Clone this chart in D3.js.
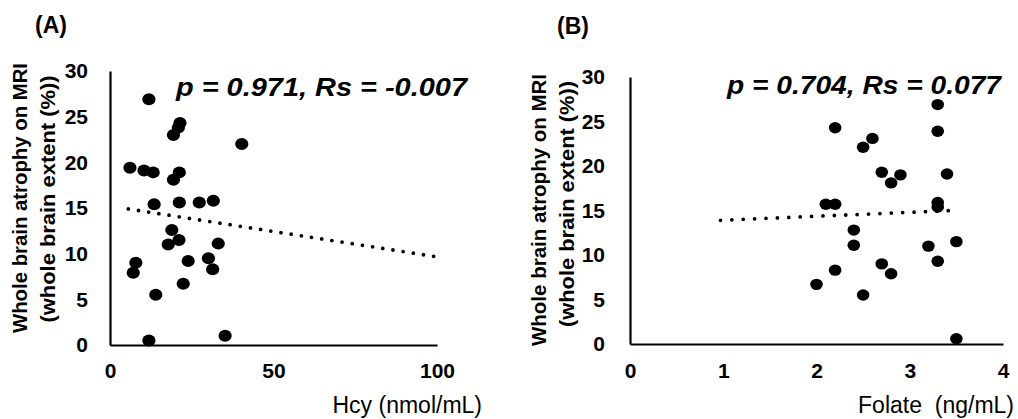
<!DOCTYPE html>
<html>
<head>
<meta charset="utf-8">
<script src="https://cdn.jsdelivr.net/npm/d3@7"></script>
<style>
  body { margin: 0; background: #fff; }
  svg { display: block; font-family: "Liberation Sans", Arial, Helvetica, sans-serif; }
  .tick text { font-weight: bold; font-size: 21px; fill: #000; }
</style>
</head>
<body>
<svg id="chart" width="1018" height="419"></svg>
<script>
/* ── Data ─────────────────────────────────────────────────────────────── */
// (A) Hcy vs whole brain atrophy
const hcyValues = [11.9, 21.4, 20.9, 19.4, 40.3, 6.1, 10.4, 13.2, 21.2, 19.4, 13.5, 21.2, 27.3, 31.6,
                   18.9, 21.1, 17.8, 33.1, 7.9, 7.1, 23.9, 30.1, 31.4, 22.4, 14.0, 11.9, 35.2];
const atrophyA  = [26.9, 24.3, 23.8, 23.0, 22.0, 19.4, 19.1, 18.9, 18.9, 18.1, 15.4, 15.6, 15.6, 15.8,
                   12.6, 11.5, 11.0, 11.1, 9.0, 7.9, 9.2, 9.5, 8.3, 6.7, 5.5, 0.5, 1.0];
// (B) Folate vs whole brain atrophy
const folateValues = [3.3, 2.2, 3.3, 2.6, 2.5, 2.7, 2.9, 3.4, 2.8, 2.1, 2.2, 3.3, 3.3, 2.4,
                      2.4, 3.2, 3.5, 3.3, 2.7, 2.2, 2.8, 2.0, 2.5, 3.5];
const atrophyB     = [26.9, 24.3, 23.9, 23.1, 22.1, 19.3, 19.0, 19.1, 18.1, 15.7, 15.7, 15.9, 15.4, 12.8,
                      11.1, 11.0, 11.5, 9.3, 9.0, 8.3, 7.9, 6.7, 5.5, 0.6];
// linear trend lines [[x0, y0], [x1, y1]]
const trendA = [[5.6, 14.9], [100, 9.65]];
const trendB = [[0.97, 13.9], [3.46, 15.0]];

const yTicks  = [0, 5, 10, 15, 20, 25, 30];
const xTicksA = [0, 50, 100];
const xTicksB = [0, 1, 2, 3, 4];

const yTitle1 = 'Whole brain atrophy on MRI';
const yTitle2 = '(whole brain extent (%))';

/* ── Panels ───────────────────────────────────────────────────────────── */
const svg = d3.select('#chart');

const panels = [
  {
    tag: '(A)', tagX: 35, tagY: 33,
    xs: hcyValues, ys: atrophyA, trend: trendA,
    xDomain: [0, 100], xRange: [110, 437], xTicks: xTicksA,
    yRange: [345, 71],
    xPad: 18, yPad: 22,
    rx: 6.6, ry: 6.0, dotGap: 10.3,
    stat: 'p = 0.971, Rs = -0.007', statX: 176, statY: 96, statLen: 291,
    xTitle: 'Hcy (nmol/mL)', xTitleX: 482,
    yT1x: 27, yT2x: 55, yT1y: 198, yT2y: 199, yT1len: 270, yT2len: 247
  },
  {
    tag: '(B)', tagX: 557, tagY: 34,
    xs: folateValues, ys: atrophyB, trend: trendB,
    xDomain: [0, 4], xRange: [630, 1003], xTicks: xTicksB,
    yRange: [344, 77],
    xPad: 19, yPad: 25,
    rx: 6.3, ry: 5.7, dotGap: 11.4,
    stat: 'p = 0.704, Rs = 0.077', statX: 727, statY: 94, statLen: 274,
    xTitle: 'Folate  (ng/mL)', xTitleX: 1014,
    yT1x: 546, yT2x: 574, yT1y: 210, yT2y: 204, yT1len: 272, yT2len: 246
  }
];

panels.forEach(p => {
  const x = d3.scaleLinear().domain(p.xDomain).range(p.xRange);
  const y = d3.scaleLinear().domain([0, 30]).range(p.yRange);
  const g = svg.append('g');

  // Axes: lines only, bold labels, no tick marks
  const xAxis = g.append('g')
    .attr('transform', `translate(0,${p.yRange[0]})`)
    .call(d3.axisBottom(x).tickValues(p.xTicks).tickFormat(d3.format('d'))
      .tickSize(0).tickSizeOuter(0).tickPadding(p.xPad));
  const yAxis = g.append('g')
    .attr('transform', `translate(${p.xRange[0]},0)`)
    .call(d3.axisLeft(y).tickValues(yTicks).tickFormat(d3.format('d'))
      .tickSize(0).tickSizeOuter(0).tickPadding(p.yPad));
  [xAxis, yAxis].forEach(a => {
    a.attr('font-family', null).attr('font-size', null);
    a.select('.domain').attr('stroke', '#000').attr('stroke-width', 2.2);
  });

  // Dotted trend line
  g.append('line')
    .attr('x1', x(p.trend[0][0])).attr('y1', y(p.trend[0][1]))
    .attr('x2', x(p.trend[1][0])).attr('y2', y(p.trend[1][1]))
    .attr('stroke', '#000').attr('stroke-width', 3.8)
    .attr('stroke-linecap', 'round')
    .attr('stroke-dasharray', `0 ${p.dotGap}`);

  // Points
  g.selectAll('ellipse')
    .data(d3.zip(p.xs, p.ys))
    .join('ellipse')
    .attr('cx', d => x(d[0]))
    .attr('cy', d => y(d[1]))
    .attr('rx', p.rx).attr('ry', p.ry)
    .attr('fill', '#000');

  // Panel tag
  g.append('text')
    .attr('x', p.tagX).attr('y', p.tagY)
    .attr('font-size', 23).attr('font-weight', 'bold')
    .text(p.tag);

  // Statistics
  g.append('text')
    .attr('x', p.statX).attr('y', p.statY)
    .attr('font-size', 25).attr('font-weight', 'bold').attr('font-style', 'italic')
    .attr('textLength', p.statLen).attr('lengthAdjust', 'spacingAndGlyphs')
    .text(p.stat);

  // X title
  g.append('text')
    .attr('x', p.xTitleX).attr('y', 413)
    .attr('text-anchor', 'end')
    .attr('font-size', 23)
    .style('white-space', 'pre')
    .text(p.xTitle);

  // Y title, two lines
  [[yTitle1, p.yT1x, p.yT1y, p.yT1len], [yTitle2, p.yT2x, p.yT2y, p.yT2len]].forEach(([t, tx, ty, len]) => {
    g.append('text')
      .attr('transform', `translate(${tx},${ty}) rotate(-90)`)
      .attr('text-anchor', 'middle')
      .attr('font-size', 20).attr('font-weight', 'bold')
      .attr('textLength', len).attr('lengthAdjust', 'spacingAndGlyphs')
      .text(t);
  });
});
</script>
</body>
</html>
